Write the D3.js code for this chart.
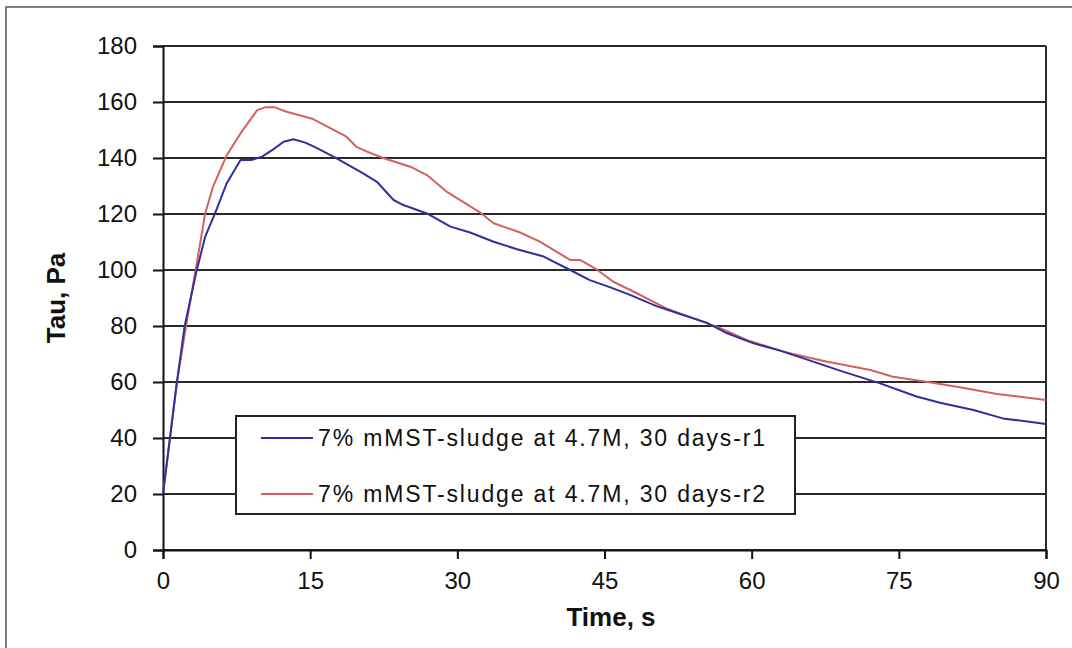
<!DOCTYPE html>
<html>
<head>
<meta charset="utf-8">
<script src="https://cdn.jsdelivr.net/npm/d3@7"></script>
<style>
  body { margin: 0; background: #fff; }
  text { font-family: Arial, "Liberation Sans", sans-serif; fill: #111; }
</style>
</head>
<body>
<div id="chart"></div>
<script>
// data
var r1Time = [0, 1.4, 2.2, 3.4, 4.3, 5.3, 6.5, 7.9, 9.0, 10.1, 11.2, 12.3, 13.3, 14.5, 15.7, 17.7, 20.4, 21.8, 23.5, 24.5, 26.9, 29.3, 31.3, 33.7, 36.0, 38.8, 41.5, 43.5, 45.6, 47.6, 50.3, 52.7, 55.4, 57.5, 60.2, 62.9, 66.5, 69.3, 73.1, 76.8, 79.2, 82.6, 85.6, 90];
var r1Tau  = [20, 59.5, 79.8, 99.4, 111.9, 120.2, 131, 139.3, 139.3, 140.5, 143, 145.8, 146.7, 145.5, 143.5, 139.9, 134.5, 131.5, 125, 123.2, 120.2, 115.5, 113.4, 110.1, 107.5, 104.8, 100, 96.4, 93.8, 91.1, 87.1, 84.3, 81.2, 77.4, 73.8, 71.2, 67, 63.7, 59.5, 54.8, 52.6, 50, 47, 45];

var r2Time = [0, 1.4, 2.4, 3.3, 4.3, 5.1, 6.5, 7.9, 9.6, 10.4, 11.4, 12.6, 15.3, 18.7, 19.7, 20.8, 22.5, 25.2, 26.9, 28.9, 32.3, 33.7, 36.4, 38.4, 41.5, 42.5, 44.2, 45.9, 48.3, 51.3, 54.7, 56.8, 59.5, 62.9, 64.2, 67.6, 72.1, 74.4, 77.8, 81.2, 85.0, 90];
var r2Tau  = [20, 59.5, 81, 99.4, 120.2, 129.8, 141, 148.8, 157.1, 158.1, 158.1, 156.5, 153.9, 147.6, 144, 142.3, 139.9, 136.9, 133.9, 128, 120.6, 116.7, 113.4, 110.1, 103.6, 103.6, 100.2, 95.8, 91.7, 86.3, 81.9, 79.2, 75, 71.2, 70, 67.3, 64.3, 61.9, 60.1, 58.1, 55.7, 53.6];

var seriesNames = ['7% mMST-sludge at 4.7M, 30 days-r1', '7% mMST-sludge at 4.7M, 30 days-r2'];
var seriesColors = ['#2f2fa0', '#d4605f'];
var xTicks = [0, 15, 30, 45, 60, 75, 90];
var yTicks = [0, 20, 40, 60, 80, 100, 120, 140, 160, 180];

const width = 1072;
const height = 648;
const plot = {left: 163, top: 46, right: 1046, bottom: 550};

var svg = d3.select('#chart').append('svg')
    .attr('width', width)
    .attr('height', height);

svg.append('rect').attr('width', width).attr('height', height).attr('fill', '#fff');

// outer frame, runs off the right and bottom edge
svg.append('rect')
    .attr('x', 6).attr('y', 7)
    .attr('width', 1200).attr('height', 800)
    .attr('fill', 'none')
    .attr('stroke', '#555')
    .attr('stroke-width', 1.5);

var x = d3.scaleLinear().domain([0, 90]).range([plot.left, plot.right]);
var y = d3.scaleLinear().domain([0, 180]).range([plot.bottom, plot.top]);

// gridlines
svg.append('g')
    .selectAll('line')
    .data(yTicks)
    .join('line')
    .attr('x1', plot.left).attr('x2', plot.right)
    .attr('y1', d => y(d)).attr('y2', d => y(d))
    .attr('stroke', '#2a2a2a')
    .attr('stroke-width', 2);

// right border of plot area
svg.append('line')
    .attr('x1', plot.right).attr('x2', plot.right)
    .attr('y1', plot.top).attr('y2', plot.bottom)
    .attr('stroke', '#2a2a2a')
    .attr('stroke-width', 2);

// axes
var yAxis = svg.append('g')
    .attr('transform', 'translate(' + plot.left + ',0)')
    .call(d3.axisLeft(y).tickValues(yTicks).tickSize(10).tickPadding(16));

var xAxis = svg.append('g')
    .attr('transform', 'translate(0,' + plot.bottom + ')')
    .call(d3.axisBottom(x).tickValues(xTicks).tickSize(9).tickPadding(13));

[yAxis, xAxis].forEach(function(ax) {
    ax.select('.domain').attr('stroke', '#111').attr('stroke-width', 2);
    ax.selectAll('.tick line').attr('stroke', '#111').attr('stroke-width', 2);
    ax.selectAll('.tick text')
        .attr('font-size', 24)
        .attr('font-family', 'Arial, "Liberation Sans", sans-serif')
        .attr('fill', '#1a1a3a');
});

// series lines
var line = d3.line()
    .x(d => x(d[0]))
    .y(d => y(d[1]));

var series = [
    d3.zip(r1Time, r1Tau),
    d3.zip(r2Time, r2Tau)
];

// r1 drawn last so blue stays on top where they overlap
[1, 0].forEach(function(i) {
    svg.append('path')
        .attr('d', line(series[i]))
        .attr('fill', 'none')
        .attr('stroke', seriesColors[i])
        .attr('stroke-width', 2)
        .attr('stroke-linejoin', 'round');
});

// legend
var legend = svg.append('g');
legend.append('rect')
    .attr('x', 236).attr('y', 416)
    .attr('width', 559).attr('height', 98)
    .attr('fill', '#fff')
    .attr('stroke', '#222')
    .attr('stroke-width', 2);

seriesNames.forEach(function(name, i) {
    var ly = y(40 - i * 20);
    legend.append('line')
        .attr('x1', 261).attr('x2', 313)
        .attr('y1', ly).attr('y2', ly)
        .attr('stroke', seriesColors[i])
        .attr('stroke-width', 2);
    legend.append('text')
        .attr('x', 318).attr('y', ly + 8)
        .attr('font-size', 23)
        .attr('textLength', 447)
        .attr('lengthAdjust', 'spacing')
        .text(name);
});

// axis titles
svg.append('text')
    .attr('transform', 'translate(65,298) rotate(-90)')
    .attr('text-anchor', 'middle')
    .attr('font-size', 26)
    .attr('font-weight', 'bold')
    .text('Tau, Pa');

svg.append('text')
    .attr('x', 611).attr('y', 626)
    .attr('text-anchor', 'middle')
    .attr('font-size', 26)
    .attr('font-weight', 'bold')
    .text('Time, s');
</script>
</body>
</html>
